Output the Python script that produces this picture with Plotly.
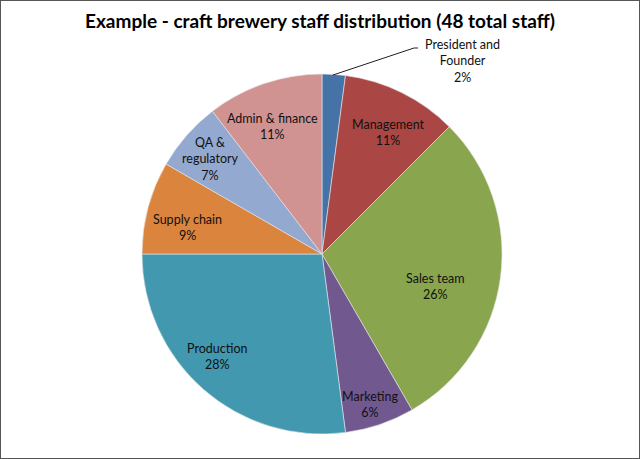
import plotly.graph_objects as go

# slices clockwise from 12 o'clock
roles = ["President and Founder", "Management", "Sales team", "Marketing",
         "Production", "Supply chain", "QA & regulatory", "Admin & finance"]
staff = [1, 5, 14, 3, 13, 4, 3, 5]
# percentages as printed on the chart labels
pct_labels = ["2%", "11%", "26%", "6%", "28%", "9%", "7%", "11%"]
label_names = ["President and<br>Founder", "Management", "Sales team", "Marketing",
               "Production", "Supply chain", "QA &<br>regulatory", "Admin & finance"]

colors = ["#4572A7", "#AA4643", "#89A54E", "#71588F",
          "#4198AF", "#DB843D", "#93A9CF", "#D19392"]

# where Excel put each data label (pixel centre of the text block)
label_pos = [(462, 61), (388, 132), (435, 286), (370, 404),
             (217, 356), (187, 227), (210, 159), (272, 126)]

W, H = 640, 459

fig = go.Figure()
fig.add_pie(
    labels=roles, values=staff, textinfo="none",
    sort=False, direction="clockwise", rotation=0,
    marker=dict(colors=colors, line=dict(color="#e8e8e8", width=0.6)),
    domain=dict(x=[142 / W, 502 / W], y=[25 / H, 385 / H]),
    showlegend=False, hoverinfo="label+value",
)

for name, pct, (px, py) in zip(label_names, pct_labels, label_pos):
    fig.add_annotation(
        text=f"{name}<br>{pct}", xref="paper", yref="paper",
        x=px / W, y=1 - py / H, xanchor="center", yanchor="middle",
        showarrow=False,
        font=dict(family="Lato", size=12.5, color="#111111"),
    )

fig.update_layout(
    width=W, height=H,
    margin=dict(l=0, r=0, t=0, b=0),
    paper_bgcolor="white",
    title=dict(text="<b>Example - craft brewery staff distribution (48 total staff)</b>",
               x=0.5, xanchor="center", y=1 - 21 / H, yanchor="middle",
               font=dict(family="Lato", size=19, color="#000000")),
    shapes=[
        # leader line to the president slice
        dict(type="path", xref="paper", yref="paper",
             path=f"M {333 / W},{1 - 75 / H} L {414 / W},{1 - 48 / H} L {418 / W},{1 - 48 / H}",
             line=dict(color="#222222", width=1)),
        dict(type="rect", xref="paper", yref="paper", x0=0, y0=0, x1=1, y1=1,
             line=dict(color="#555555", width=2)),
    ],
)

fig.write_html("out.html", config={"displayModeBar": False},
               post_script="document.body.style.margin='0';")
